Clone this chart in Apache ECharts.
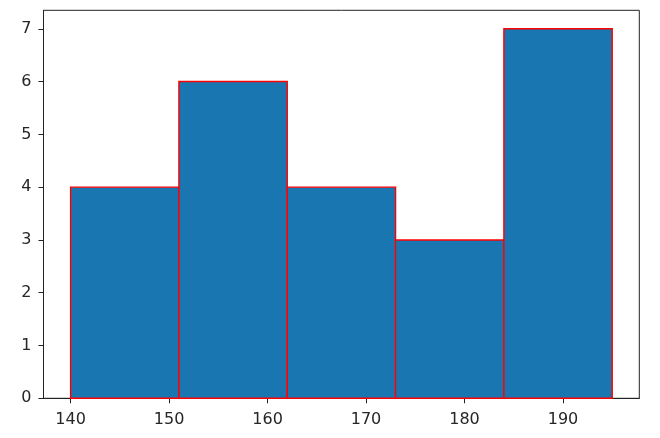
<!DOCTYPE html>
<html>
<head>
<meta charset="utf-8">
<script src="https://cdn.jsdelivr.net/npm/echarts@6/dist/echarts.min.js"></script>
<style>
html,body{margin:0;padding:0;background:#fff;}
#chart{width:660px;height:438px;}
</style>
</head>
<body>
<div id="chart"></div>
<script>
const binEdges = [140, 151, 162, 173, 184, 195];
const counts = [4, 6, 4, 3, 7];
const xTicks = [140, 150, 160, 170, 180, 190];
const yTicks = [0, 1, 2, 3, 4, 5, 6, 7];

const barData = counts.map((c, i) => [binEdges[i], binEdges[i + 1], c]);

const chart = echarts.init(document.getElementById('chart'), null, {renderer: 'canvas'});
const labelStyle = {color: '#262626', fontFamily: 'DejaVu Sans', fontSize: 16};
chart.setOption({
  animation: false,
  grid: {left: 43.5, right: 20.7, top: 10.3, bottom: 39.7, show: true, borderColor: '#222', borderWidth: 1, containLabel: false},
  xAxis: {
    type: 'value', min: 137.25, max: 197.75,
    splitLine: {show: false},
    axisLine: {show: true, onZero: false, lineStyle: {color: '#222', width: 1}},
    axisTick: {show: true, length: 5, customValues: xTicks, lineStyle: {color: '#222'}},
    axisLabel: Object.assign({customValues: xTicks, margin: 14}, labelStyle)
  },
  yAxis: {
    type: 'value', min: 0, max: 7.35,
    splitLine: {show: false},
    axisLine: {show: true, lineStyle: {color: '#222', width: 1}},
    axisTick: {show: true, length: 5, customValues: yTicks, lineStyle: {color: '#222'}},
    axisLabel: Object.assign({customValues: yTicks, margin: 12, padding: [4, 0, 0, 0]}, labelStyle)
  },
  series: [{
    type: 'custom',
    data: barData,
    encode: {x: [0, 1], y: 2},
    renderItem: function (params, api) {
      const p0 = api.coord([api.value(0), api.value(2)]);
      const p1 = api.coord([api.value(1), 0]);
      return {
        type: 'rect',
        shape: {x: p0[0], y: p0[1], width: p1[0] - p0[0], height: p1[1] - p0[1]},
        style: {fill: '#1a76b1', stroke: '#ff0000', lineWidth: 1.4}
      };
    }
  }]
});
</script>
</body>
</html>
